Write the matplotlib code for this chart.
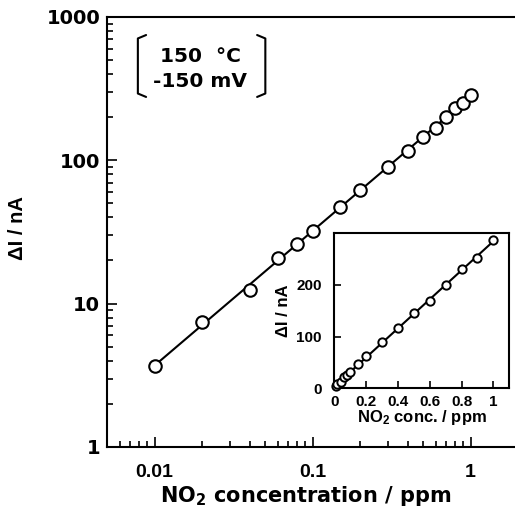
import numpy as np
import matplotlib
matplotlib.use("Agg")
import matplotlib.pyplot as plt
from matplotlib.path import Path
from matplotlib.patches import PathPatch
from matplotlib.ticker import FixedLocator, LogLocator, NullFormatter, FixedFormatter

plt.rcParams['font.family'] = ['Liberation Sans', 'DejaVu Sans']
plt.rcParams['font.weight'] = 'bold'
plt.rcParams['mathtext.default'] = 'regular'

conc = [0.01, 0.02, 0.04, 0.06, 0.08, 0.1, 0.15, 0.2, 0.3, 0.4, 0.5, 0.6, 0.7, 0.8, 0.9, 1.0]
current = [3.7, 7.4, 12.5, 20.9, 26, 32.2, 47, 62, 90, 116, 146, 169, 200, 230, 253, 286]

x_ticks = [0.01, 0.1, 1]
x_ticklabels = ['0.01', '0.1', '1']
y_ticks = [1, 10, 100, 1000]
y_ticklabels = ['1', '10', '100', '1000']
in_xticks = [0, 0.2, 0.4, 0.6, 0.8, 1]
in_xticklabels = ['0', '0.2', '0.4', '0.6', '0.8', '1']
in_yticks = [0, 100, 200]
in_yticklabels = ['0', '100', '200']

WIDE = ['DejaVu Sans']
NARROW = ['Liberation Sans', 'DejaVu Sans']

fig = plt.figure(figsize=(5.15, 5.14), dpi=100)
ax = fig.add_axes([0.2078, 0.1304, 0.7985, 0.8366])

x = np.array(conc)
y = np.array(current)
p = np.polyfit(np.log10(x), np.log10(y), 1)
xf = np.logspace(np.log10(x.min()), np.log10(x.max()), 50)
ax.plot(xf, 10 ** np.polyval(p, np.log10(xf)), color='black', lw=1.5, zorder=2)
ax.plot(x, y, 'o', ms=9, mfc='white', mec='black', mew=1.5, zorder=3)

ax.set_xscale('log')
ax.set_yscale('log')
ax.set_xlim(0.005, 2)
ax.set_ylim(1, 1000)
ax.xaxis.set_major_locator(FixedLocator(x_ticks))
ax.xaxis.set_major_formatter(FixedFormatter(x_ticklabels))
ax.yaxis.set_major_locator(FixedLocator(y_ticks))
ax.yaxis.set_major_formatter(FixedFormatter(y_ticklabels))
ax.xaxis.set_minor_locator(LogLocator(base=10, subs=np.arange(2, 10)))
ax.yaxis.set_minor_locator(LogLocator(base=10, subs=np.arange(2, 10)))
ax.xaxis.set_minor_formatter(NullFormatter())
ax.yaxis.set_minor_formatter(NullFormatter())
ax.tick_params(which='both', direction='in', top=False, right=False, width=1.2)
ax.tick_params(which='major', length=7, labelsize=14)
ax.tick_params(which='minor', length=4)
ax.tick_params(axis='x', which='major', pad=12)
ax.tick_params(axis='y', which='major', pad=5)
for lab in ax.get_yticklabels():
    lab.set_family(WIDE)
    lab.set_fontweight('bold')
for lab in ax.get_xticklabels():
    lab.set_family(NARROW)
    lab.set_fontweight('bold')
for s in ax.spines.values():
    s.set_linewidth(1.5)
ax.set_xlabel(r'NO$_{2}$ concentration / ppm', fontsize=15, fontweight='bold', family=WIDE)
ax.xaxis.set_label_coords(0.482, -0.085)
ax.set_ylabel('ΔI / nA', fontsize=14.5, fontweight='bold', family=NARROW)
ax.yaxis.set_label_coords(-0.195, 0.51)

ax.text(0.226, 0.880, '150  °C\n-150 mV', transform=ax.transAxes, ha='center', va='center',
        fontsize=14.5, fontweight='bold', family=WIDE, linespacing=1.4)
# brackets
for xs, sgn in [(0.075, 1), (0.385, -1)]:
    verts = [(xs + sgn * 0.02, 0.958), (xs, 0.950), (xs, 0.822), (xs + sgn * 0.02, 0.814)]
    codes = [Path.MOVETO, Path.LINETO, Path.LINETO, Path.LINETO]
    ax.add_patch(PathPatch(Path(verts, codes), transform=ax.transAxes, fill=False,
                           lw=1.5, color='black', capstyle='round', joinstyle='round'))

# inset
ins = fig.add_axes([0.649, 0.2446, 0.340, 0.3016])
pl = np.polyfit(x, y, 1)
xl = np.array([0.0, x.max()])
ins.plot(xl, np.polyval(pl, xl), color='black', lw=1.5, zorder=2)
ins.plot(x, y, 'o', ms=6, mfc='white', mec='black', mew=1.4, zorder=3, clip_on=False)
ins.set_xlim(0, 1.1)
ins.set_ylim(0, 300)
ins.xaxis.set_major_locator(FixedLocator(in_xticks))
ins.xaxis.set_major_formatter(FixedFormatter(in_xticklabels))
ins.yaxis.set_major_locator(FixedLocator(in_yticks))
ins.yaxis.set_major_formatter(FixedFormatter(in_yticklabels))
ins.tick_params(direction='in', top=False, right=False, length=5, width=1.2, labelsize=11)
ins.tick_params(axis='x', pad=5)
ins.tick_params(axis='y', pad=9)
for s in ins.spines.values():
    s.set_linewidth(1.5)
ins.set_xlabel(r'NO$_{2}$ conc. / ppm', fontsize=12, fontweight='bold', family=NARROW, labelpad=-1)
ins.set_ylabel('ΔI / nA', fontsize=12, fontweight='bold', family=NARROW, labelpad=4)

fig.savefig('out.png', dpi=100)
